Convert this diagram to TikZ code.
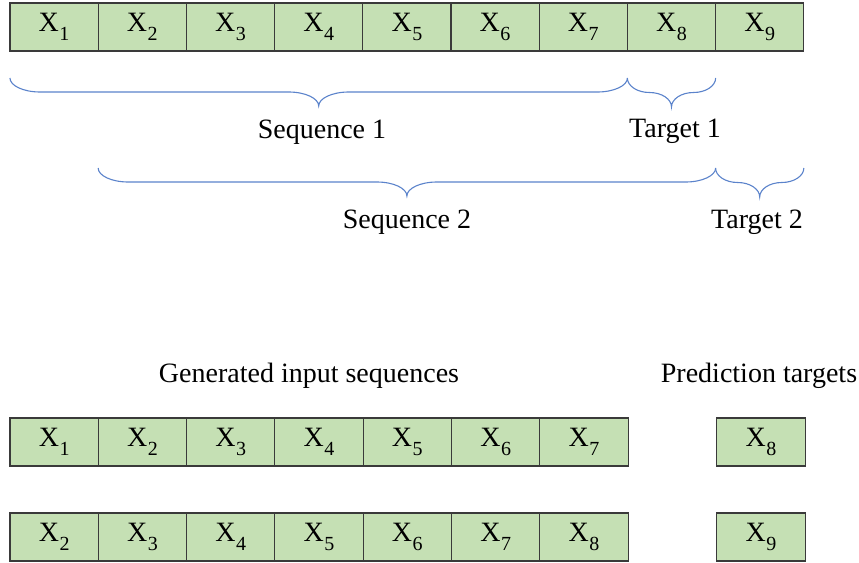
\documentclass[tikz,border=0pt]{standalone}
\usepackage{fontspec}
\setmainfont{Liberation Serif}
\usetikzlibrary{calc}
\definecolor{cellgreen}{HTML}{C5E0B4}
\definecolor{cellline}{HTML}{3A3A3A}
\definecolor{braceblue}{HTML}{5B83CB}
\newcommand{\xs}[1]{X\kern0.02em\raisebox{-0.32em}{\fontsize{20}{20}\selectfont #1}}
\newcommand{\myBrace}[4]{%
  \draw[bracestyle] let \p1=(#1), \p2=(#2), \p3=($(#1)!0.5!(#2)$) in
  (\x1,\y1) .. controls (\x1,{\y1-0.275*#3}) and ({\x1+0.45*#4},{\y1-0.5*#3}) .. ({\x1+#4},{\y1-0.5*#3})
  -- ({\x3-#4},{\y1-0.5*#3}) .. controls ({\x3-0.45*#4},{\y1-0.5*#3}) and (\x3,{\y1-0.725*#3}) .. (\x3,{\y1-#3})
  .. controls (\x3,{\y1-0.725*#3}) and ({\x3+0.45*#4},{\y1-0.5*#3}) .. ({\x3+#4},{\y1-0.5*#3})
  -- ({\x2-#4},{\y1-0.5*#3}) .. controls ({\x2-0.45*#4},{\y1-0.5*#3}) and (\x2,{\y1-0.275*#3}) .. (\x2,\y1);
}
\begin{document}
\begin{tikzpicture}[x=1pt,y=1pt,
  cell/.style={draw=cellline, fill=cellgreen, line width=1.1pt, minimum width=88.3pt, minimum height=48pt, inner sep=0pt, outer sep=0pt, font=\fontsize{28}{32}\selectfont},
  lbl/.style={font=\fontsize{28}{32}\selectfont, anchor=base, inner sep=0pt},
  bracestyle/.style={draw=braceblue, line width=1.1pt}]
\useasboundingbox (0,0) rectangle (859,-562);
\foreach \i in {1,...,9} \node[cell] (t\i) at ({10+88.2*(\i-0.5)},-27) {\xs{\i}};
\foreach \i in {1,...,7} \node[cell] (a\i) at ({10+88.3*(\i-0.5)},-442) {\xs{\i}};
\foreach \i [evaluate=\i as \j using int(\i+1)] in {1,...,7} \node[cell] (b\i) at ({10+88.3*(\i-0.5)},-537) {\xs{\j}};
\node[cell] (p1) at (761,-442) {\xs{8}};
\node[cell] (p2) at (761,-537) {\xs{9}};
\coordinate (s1l) at ($(t1.south west)+(0,-27)$);
\coordinate (s1r) at ($(t7.south east)+(0,-27)$);
\coordinate (g1l) at ($(t8.south west)+(0,-27)$);
\coordinate (g1r) at ($(t8.south east)+(0,-27)$);
\coordinate (s2l) at ($(t2.south west)+(0,-117)$);
\coordinate (s2r) at ($(t8.south east)+(0,-117)$);
\coordinate (g2l) at ($(t9.south west)+(0,-117)$);
\coordinate (g2r) at ($(t9.south east)+(0,-117)$);
\myBrace{s1l}{s1r}{28}{30}
\myBrace{g1l}{g1r}{29}{22}
\myBrace{s2l}{s2r}{28}{30}
\myBrace{g2l}{g2r}{29}{22}
\node[lbl] (l1) at (322,-138) {Sequence 1};
\node[lbl] (l2) at (675,-137) {Target 1};
\node[lbl] (l3) at (407,-228) {Sequence 2};
\node[lbl] (l4) at (757,-228) {Target 2};
\node[lbl] (l5) at (309,-382) {Generated input sequences};
\node[lbl] (l6) at (759,-382) {Prediction targets};
\end{tikzpicture}
\end{document}
